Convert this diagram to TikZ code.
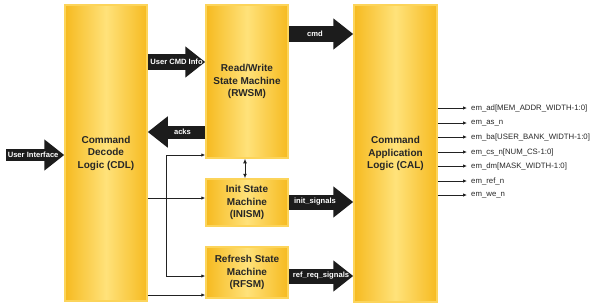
\documentclass[tikz,border=0pt]{standalone}
\usepackage{fontspec}
\setmainfont{Liberation Sans}
\usetikzlibrary{arrows.meta}
\definecolor{boxedge}{HTML}{F6BA20}
\definecolor{boxmid}{HTML}{FFE27A}
\definecolor{boxline}{HTML}{FCD45A}
\definecolor{arrowblk}{HTML}{1C1C1C}
\definecolor{thinln}{HTML}{222222}
\begin{document}
\begin{tikzpicture}[x=1pt,y=-1pt,
  blk/.style={draw=boxline, line width=1.5pt, left color=boxedge, right color=boxedge, middle color=boxmid,
    align=center, font=\bfseries\fontsize{10}{12.5}\selectfont, text=black!85, inner sep=0pt},
  bigarr/.style={draw=arrowblk, line width=14pt, -{Triangle[length=20pt,width=30pt]}},
  arrlbl/.style={midway, text=white, font=\bfseries\fontsize{7.6}{8}\selectfont, inner sep=0pt},
  thinarr/.style={draw=thinln, line width=0.9pt, -{Latex[length=4pt,width=3.5pt]}},
  outlbl/.style={anchor=west, inner sep=1pt, font=\fontsize{7.8}{8}\selectfont, text=black!85}]
\useasboundingbox (0,0) rectangle (600,306);

% blocks
\node[blk, minimum width=82pt, minimum height=296pt] (cdl) at (106,153) {Command\\Decode\\Logic (CDL)};
\node[blk, minimum width=82pt, minimum height=153pt] (rwsm) at (247,81.5) {Read/Write\\State Machine\\(RWSM)};
\node[blk, minimum width=82pt, minimum height=47pt] (inism) at (247,202.5) {Init State\\Machine\\(INISM)};
\node[blk, minimum width=82pt, minimum height=51pt] (rfsm) at (247,272.5) {Refresh State\\Machine\\(RFSM)};
\node[blk, minimum width=83pt, minimum height=297pt] (cal) at (395.5,153.5) {Command\\Application\\Logic (CAL)};

% big arrows
\coordinate (uiin) at (6,155);
\draw[bigarr, line width=12pt] (uiin) -- (cdl.west |- uiin) node[arrlbl, xshift=-2pt] {User Interface};
\draw[bigarr, line width=16pt] (cdl.east |- 0,62) -- (rwsm.west |- 0,62) node[arrlbl] {User CMD Info};
\draw[bigarr, line width=13pt] (rwsm.west |- 0,132) -- (cdl.east |- 0,132) node[arrlbl, xshift=6pt] {acks};
\draw[bigarr, line width=16pt] (rwsm.east |- 0,34) -- (cal.west |- 0,34) node[arrlbl, xshift=-6pt] {cmd};
\draw[bigarr, line width=15pt] (inism.east |- 0,202) -- (cal.west |- 0,202) node[arrlbl, xshift=-6pt] {init\_signals};
\draw[bigarr, line width=15pt] (rfsm.east |- 0,276) -- (cal.west |- 0,276) node[arrlbl] {ref\_req\_signals};

% thin connectors
\coordinate (jn) at (166,198);
\draw[thinarr] (cdl.east |- jn) -- (inism.west |- jn);
\draw[thinarr] (jn) |- (rwsm.west |- 0,155);
\draw[thinarr] (jn) |- (rfsm.west |- 0,276);
\draw[thinarr] (cdl.east |- 0,295) -- (rfsm.west |- 0,295);
\draw[draw=thinln, line width=0.9pt, {Latex[length=4.5pt,width=4pt]}-{Latex[length=4.5pt,width=4pt]}] (rwsm.south -| 245,0) -- (inism.north -| 245,0);

% outputs
\node[outlbl] (o1) at (470,108) {em\_ad[MEM\_ADDR\_WIDTH-1:0]};
\node[outlbl] (o2) at (470,123) {em\_as\_n};
\node[outlbl] (o3) at (470,137) {em\_ba[USER\_BANK\_WIDTH-1:0]};
\node[outlbl] (o4) at (470,152) {em\_cs\_n[NUM\_CS-1:0]};
\node[outlbl] (o5) at (470,166) {em\_dm[MASK\_WIDTH-1:0]};
\node[outlbl] (o6) at (470,181) {em\_ref\_n};
\node[outlbl] (o7) at (470,195) {em\_we\_n};
\foreach \o in {o1,o2,o3,o4,o5,o6,o7}
  \draw[thinarr, shorten >=3pt] (cal.east |- \o) -- (\o.west);
\end{tikzpicture}
\end{document}
